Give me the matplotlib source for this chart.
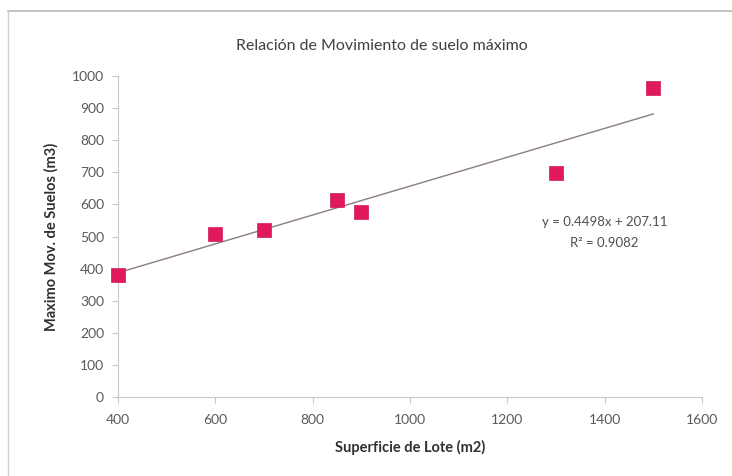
import matplotlib
matplotlib.use("Agg")
import matplotlib.pyplot as plt
from matplotlib.lines import Line2D
import numpy as np

plt.rcParams['font.family'] = ['Lato', 'DejaVu Sans']

superficie = [400, 600, 700, 850, 900, 1300, 1500]
movimiento = [381, 508, 521, 614, 576, 697, 962]
slope = 0.4498
intercept = 207.11
eq_text = "y = 0.4498x + 207.11"
r2_text = "R² = 0.9082"
title = "Relación de Movimiento de suelo máximo"
xlabel = "Superficie de Lote (m2)"
ylabel = "Maximo Mov. de Suelos (m3)"
xticks = [400, 600, 800, 1000, 1200, 1400, 1600]
yticks = [0, 100, 200, 300, 400, 500, 600, 700, 800, 900, 1000]

W, H = 732, 476
fig = plt.figure(figsize=(W/100, H/100), dpi=100)
ax = fig.add_axes([118/W, 1-397/H, (702-118)/W, (397-76)/H])

xs = np.array([min(superficie), max(superficie)])
ax.plot(xs, slope*xs + intercept, color='#8a7a8a', lw=1.0, zorder=2)
ax.scatter(superficie, movimiento, marker='s', s=100, color='#e0195f',
           edgecolors='#d01858', linewidths=0.5, zorder=3, clip_on=False)

ax.set_xlim(400, 1600)
ax.set_ylim(0, 1000)
ax.set_xticks(xticks)
ax.set_yticks(yticks)
tc = '#5a5a5a'
ax.tick_params(axis='both', colors='#c8c8c8', labelcolor=tc, labelsize=10,
               length=4, width=0.8, direction='out')
ax.tick_params(axis='x', pad=8)
ax.tick_params(axis='y', pad=6)
for s in ['top', 'right']:
    ax.spines[s].set_visible(False)
for s in ['left', 'bottom']:
    ax.spines[s].set_color('#c8c8c8')
    ax.spines[s].set_linewidth(0.8)

ax.set_xlabel(xlabel, fontsize=10.5, fontweight='bold', color='#303030', labelpad=10)
ax.set_ylabel(ylabel, fontsize=10.5, fontweight='bold', color='#303030', labelpad=10)

fig.text(382/W, 1-46/H, title, ha='center', va='center', fontsize=11.5, color='#404040')
ax.text(1400, 545, eq_text, ha='center', va='center', fontsize=9.5, color='#505050')
ax.text(1400, 480, r2_text, ha='center', va='center', fontsize=9.5, color='#505050')

# outer chart-area border (top and left visible)
fig.add_artist(Line2D([8/W, 1.0], [1-11/H, 1-11/H], transform=fig.transFigure,
                      color='#b8b8b8', lw=1.2))
fig.add_artist(Line2D([8/W, 8/W], [0, 1-11/H], transform=fig.transFigure,
                      color='#d0d0d0', lw=1.0))

fig.savefig('out.png', dpi=100)
